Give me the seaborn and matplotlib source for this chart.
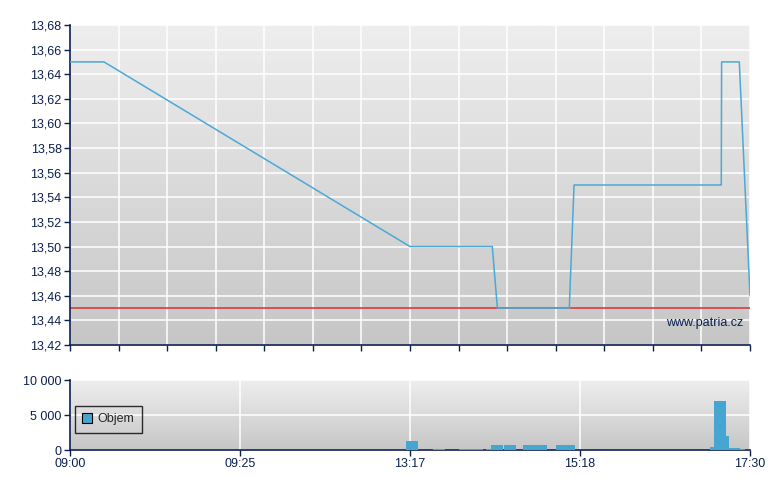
import numpy as np
import pandas as pd
import matplotlib
matplotlib.use("Agg")
import matplotlib.pyplot as plt
import seaborn as sns
from matplotlib.colors import LinearSegmentedColormap
from matplotlib.patches import Patch
from matplotlib.ticker import FuncFormatter

# x positions are on the chart's own (uneven) time scale: 0..4 = the five labels
time_labels = ["09:00", "09:25", "13:17", "15:18", "17:30"]

price_pos = [0, 0.2, 2.0, 2.484, 2.514, 2.937, 2.965, 3.831, 3.833, 3.937, 4.0]
price = [13.65, 13.65, 13.50, 13.50, 13.45, 13.45, 13.55, 13.55, 13.65, 13.65, 13.46]
ref_price = 13.45

vol_pos = [2.011, 2.172, 2.358, 2.462, 2.511, 2.587, 2.735, 2.915, 3.776, 3.823, 3.866, 3.908, 3.955]
vol_width = [0.069, 0.069, 0.139, 0.029, 0.069, 0.069, 0.141, 0.112, 0.024, 0.069, 0.018, 0.066, 0.028]
volume = [1300, 150, 100, 100, 700, 700, 700, 700, 400, 7000, 2000, 300, 150]

navy = "#0b1f4f"
line_blue = "#4aa9d6"
bar_blue = "#46a6cf"

sns.set_theme(style="white")
plt.rcParams["font.family"] = ["Liberation Sans", "DejaVu Sans"]
plt.rcParams["font.size"] = 9

fig = plt.figure(figsize=(7.8, 4.9), dpi=100)
ax = fig.add_axes([70 / 780, 145 / 490, 680 / 780, 320 / 490])
axv = fig.add_axes([70 / 780, 40 / 490, 680 / 780, 70 / 490])

grad = LinearSegmentedColormap.from_list("bg", ["#c6c6c6", "#eeeeee"])


def style_axes(a):
    a.imshow(np.linspace(0, 1, 256).reshape(-1, 1), extent=[0, 1, 0, 1], origin="lower",
             transform=a.transAxes, cmap=grad, aspect="auto", zorder=-2)
    a.set_axisbelow(True)
    a.grid(True, color="white", linewidth=1.1)
    for s in ["top", "right"]:
        a.spines[s].set_visible(False)
    for s in ["left", "bottom"]:
        a.spines[s].set_color(navy)
        a.spines[s].set_linewidth(1.2)
    a.tick_params(colors=navy, labelcolor=navy, direction="out", length=4, width=1,
                  left=True, bottom=True, labelsize=9, pad=2)


# price panel
style_axes(ax)
df = pd.DataFrame({"pos": price_pos, "price": price})
sns.lineplot(data=df, x="pos", y="price", ax=ax, color=line_blue, linewidth=1.1,
             sort=False, estimator=None, zorder=3)
ax.axhline(ref_price, color="#e03030", linewidth=1.1, zorder=2)
ax.set_xlim(0, 4)
ax.set_ylim(13.42, 13.68)
ax.set_yticks(np.arange(13.42, 13.681, 0.02))
ax.yaxis.set_major_formatter(FuncFormatter(lambda v, p: f"{v:.2f}".replace(".", ",")))
ax.set_xticks(np.linspace(0, 4, 15))
ax.set_xticklabels([])
ax.set_xlabel("")
ax.set_ylabel("")
ax.text(0.99, 0.068, "www.patria.cz", transform=ax.transAxes, ha="right", va="center",
        color=navy, fontsize=9)

# volume panel
style_axes(axv)
axv.bar(vol_pos, volume, width=vol_width, color=bar_blue, linewidth=0, zorder=3)
axv.set_xlim(0, 4)
axv.set_ylim(0, 10000)
axv.set_yticks([0, 5000, 10000])
axv.yaxis.set_major_formatter(FuncFormatter(lambda v, p: f"{int(v):,}".replace(",", " ")))
axv.set_xticks(range(len(time_labels)))
axv.set_xticklabels(time_labels)
leg = axv.legend(handles=[Patch(facecolor=bar_blue, edgecolor="black", linewidth=0.8, label="Objem")],
                 loc="upper left", bbox_to_anchor=(-0.002, 0.72), frameon=True, fancybox=False,
                 handlelength=0.8, handleheight=0.8, handletextpad=0.4, borderpad=0.6,
                 borderaxespad=0.5, fontsize=9)
leg.get_frame().set_edgecolor("black")
leg.get_frame().set_facecolor("none")
leg.get_frame().set_linewidth(1)

fig.savefig("out.png", dpi=100)
